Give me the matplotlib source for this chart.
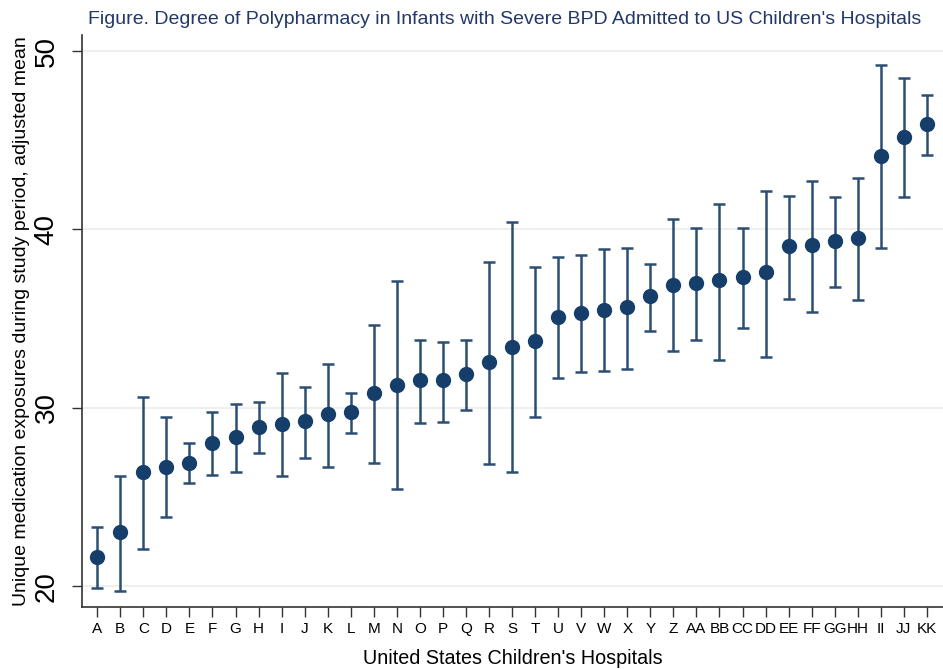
import matplotlib
matplotlib.use('Agg')
import matplotlib.pyplot as plt
import numpy as np

hospitals = ['A', 'B', 'C', 'D', 'E', 'F', 'G', 'H', 'I', 'J', 'K', 'L', 'M',
             'N', 'O', 'P', 'Q', 'R', 'S', 'T', 'U', 'V', 'W', 'X', 'Y', 'Z',
             'AA', 'BB', 'CC', 'DD', 'EE', 'FF', 'GG', 'HH', 'II', 'JJ', 'KK']

# adjusted mean number of unique medication exposures, with 95% CI
mean = [21.64, 23.03, 26.41, 26.70, 26.93, 28.01, 28.38, 28.90, 29.09, 29.26,
        29.63, 29.78, 30.85, 31.30, 31.55, 31.55, 31.90, 32.55, 33.43, 33.73,
        35.10, 35.32, 35.49, 35.64, 36.25, 36.90, 37.00, 37.14, 37.35, 37.59,
        39.06, 39.12, 39.35, 39.49, 44.12, 45.16, 45.90]
ci_low = [19.87, 19.74, 22.07, 23.87, 25.79, 26.22, 26.42, 27.45, 26.20, 27.17,
          26.66, 28.60, 26.91, 25.42, 29.12, 29.22, 29.87, 26.82, 26.39, 29.50,
          31.69, 32.01, 32.07, 32.18, 34.33, 33.16, 33.78, 32.65, 34.47, 32.86,
          36.12, 35.39, 36.78, 36.06, 38.94, 41.82, 44.16]
ci_high = [23.31, 26.18, 30.63, 29.46, 28.03, 29.78, 30.21, 30.32, 31.97, 31.17,
           32.44, 30.85, 34.64, 37.13, 33.78, 33.69, 33.78, 38.17, 40.41, 37.89,
           38.45, 38.56, 38.90, 38.96, 38.08, 40.61, 40.06, 41.41, 40.06, 42.14,
           41.90, 42.73, 41.82, 42.86, 49.20, 48.47, 47.55]

y_ticks = [20, 30, 40, 50]

plt.rcParams['font.family'] = ['Liberation Sans', 'DejaVu Sans']

x = np.arange(len(hospitals))
mean = np.array(mean)
err = np.vstack([mean - np.array(ci_low), np.array(ci_high) - mean])

fig = plt.figure(figsize=(9.43, 6.69), dpi=100)
ax = fig.add_axes([0.087, 0.0927, 0.913, 0.855])

for yv in y_ticks:
    ax.axhline(yv, color='#ececec', lw=1.2, zorder=0)

ax.errorbar(x, mean, yerr=err, fmt='none', ecolor='#2c4e72', elinewidth=1.8,
            capsize=4.2, capthick=1.8, zorder=2)
ax.plot(x, mean, 'o', color='#153e6a', markersize=10, zorder=3)

ax.set_xlim(-0.66, 36.7)
ax.set_ylim(18.83, 50.9)
ax.set_xticks(x)
ax.set_xticklabels(hospitals, fontsize=11)
ax.set_yticks(y_ticks)
ax.set_yticklabels([str(v) for v in y_ticks], fontsize=20, rotation=90, va='center')

ax.tick_params(axis='x', length=7, width=1.0, color='#333333', pad=4)
ax.tick_params(axis='y', length=7, width=1.0, color='#333333', pad=9)

for side in ['top', 'right']:
    ax.spines[side].set_visible(False)
for side in ['left', 'bottom']:
    ax.spines[side].set_color('#333333')
    ax.spines[side].set_linewidth(1.2)

ax.set_xlabel("United States Children's Hospitals", fontsize=14.2, labelpad=9)
ax.set_ylabel('Unique medication exposures during study period, adjusted mean',
              fontsize=14, labelpad=3)

fig.text(0.093, 0.958, "Figure. Degree of Polypharmacy in Infants with Severe BPD "
         "Admitted to US Children's Hospitals",
         family=['Liberation Sans Narrow', 'Liberation Sans'], fontsize=14.0,
         color='#22386a', ha='left', va='bottom')

fig.savefig('out.png', dpi=100)
